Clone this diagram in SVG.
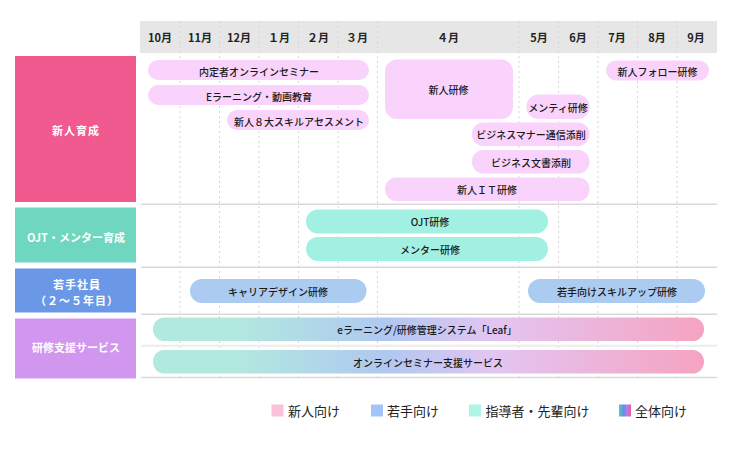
<svg xmlns="http://www.w3.org/2000/svg" width="730" height="460" viewBox="0 0 730 460">
<style>
text{font-family:"Noto Sans CJK JP","Noto Sans",sans-serif;dominant-baseline:central;text-anchor:middle}
.m{font-size:11px;font-weight:700;fill:#222}
.cat{font-size:11px;font-weight:700;fill:#fff}
.lb{font-size:10px;font-weight:500;fill:#1a1a1a}
.lg{font-size:13px;font-weight:400;fill:#222;text-anchor:start}
.grid{stroke:#d6d6d6;stroke-width:1;stroke-dasharray:2 3}
.hl{stroke:#d9d9d9;stroke-width:1.5}
.pk{fill:#F9D3FB}
.tl{fill:#A2F0E2}
.bl{fill:#ABCBF1}
.gr{fill:url(#g)}
</style>
<defs>
<linearGradient id="g" x1="0" y1="0" x2="1" y2="0">
<stop offset="0" stop-color="#B2E9DF"/>
<stop offset="0.15" stop-color="#B2E9DF"/>
<stop offset="0.42" stop-color="#AFC8F0"/>
<stop offset="0.62" stop-color="#E3C5F2"/>
<stop offset="1" stop-color="#F6A3C0"/>
</linearGradient>
<linearGradient id="lgg" x1="0" y1="0" x2="1" y2="0">
<stop offset="0" stop-color="#4ECDB5"/>
<stop offset="0.4" stop-color="#6A8BEA"/>
<stop offset="0.7" stop-color="#B67FE6"/>
<stop offset="1" stop-color="#F05A8E"/>
</linearGradient>
</defs>
<rect width="730" height="460" fill="#fff"/>
<g id="header">
<rect x="140" y="21" width="577" height="32" fill="#E6E6E6"/>
<text class="m" x="160" y="37">10月</text>
<text class="m" x="200" y="37">11月</text>
<text class="m" x="239" y="37">12月</text>
<text class="m" x="279" y="37">１月</text>
<text class="m" x="318" y="37">２月</text>
<text class="m" x="357" y="37">３月</text>
<text class="m" x="448" y="37">４月</text>
<text class="m" x="539" y="37">5月</text>
<text class="m" x="578" y="37">6月</text>
<text class="m" x="617" y="37">7月</text>
<text class="m" x="657" y="37">8月</text>
<text class="m" x="696" y="37">9月</text>
</g>
<g id="grid">
<line class="grid" x1="180" y1="21" x2="180" y2="380"/>
<line class="grid" x1="219.5" y1="21" x2="219.5" y2="380"/>
<line class="grid" x1="259" y1="21" x2="259" y2="380"/>
<line class="grid" x1="298.5" y1="21" x2="298.5" y2="380"/>
<line class="grid" x1="338" y1="21" x2="338" y2="380"/>
<line class="grid" x1="377.5" y1="21" x2="377.5" y2="380"/>
<line class="grid" x1="519" y1="21" x2="519" y2="380"/>
<line class="grid" x1="558.5" y1="21" x2="558.5" y2="380"/>
<line class="grid" x1="598" y1="21" x2="598" y2="380"/>
<line class="grid" x1="637.5" y1="21" x2="637.5" y2="380"/>
<line class="grid" x1="677" y1="21" x2="677" y2="380"/>
<line class="hl" x1="141" y1="204.3" x2="717" y2="204.3"/>
<line class="hl" x1="141" y1="267.3" x2="717" y2="267.3"/>
<line class="hl" x1="141" y1="314.3" x2="717" y2="314.3"/>
<line stroke="#ececec" stroke-width="2" x1="141" y1="345.7" x2="717" y2="345.7"/>
<line class="hl" x1="141" y1="377.5" x2="717" y2="377.5"/>
</g>
<g id="cat-shinjin">
<rect x="15" y="56" width="121" height="146" fill="#F05A8E"/>
<text class="cat" x="76" y="129.5" letter-spacing="1">新人育成</text>
</g>
<g id="cat-ojt">
<rect x="15" y="207.5" width="121" height="55" fill="#6FD6C0"/>
<text class="cat" x="76" y="236.5" font-size="10">OJT・メンター育成</text>
</g>
<g id="cat-wakate">
<rect x="15" y="268.5" width="121" height="44" fill="#6A98E6"/>
<text class="cat" x="77" y="284" font-size="10.5" letter-spacing="1">若手社員</text>
<text class="cat" x="77" y="299.5" font-size="10" letter-spacing="1">（２～５年目）</text>
</g>
<g id="cat-shien">
<rect x="15" y="318.5" width="121" height="60" fill="#D197EE"/>
<text class="cat" x="76" y="346.5" font-size="10">研修支援サービス</text>
</g>
<g id="bar-naitei"><rect class="pk" x="148" y="60" width="221" height="20" rx="10"/><text class="lb" x="259" y="71">内定者オンラインセミナー</text></g>
<g id="bar-elearning"><rect class="pk" x="148" y="85" width="221" height="20" rx="10"/><text class="lb" x="259" y="96">Eラーニング・動画教育</text></g>
<g id="bar-8dai"><rect class="pk" x="227" y="110" width="142" height="20" rx="10"/><text class="lb" x="299" y="121">新人８大スキルアセスメント</text></g>
<g id="bar-shinjin-kenshu"><rect class="pk" x="385" y="59.5" width="128" height="59.5" rx="12"/><text class="lb" x="448.5" y="89.5">新人研修</text></g>
<g id="bar-mentee"><rect class="pk" x="526.5" y="94.5" width="63" height="24.5" rx="12"/><text class="lb" x="558" y="107">メンティ研修</text></g>
<g id="bar-manner"><rect class="pk" x="472" y="122.5" width="117.5" height="23.5" rx="11.5"/><text class="lb" x="531" y="134.5">ビジネスマナー通信添削</text></g>
<g id="bar-bunsho"><rect class="pk" x="472" y="150" width="117.5" height="23.5" rx="11.5"/><text class="lb" x="531" y="162">ビジネス文書添削</text></g>
<g id="bar-it"><rect class="pk" x="385" y="177.5" width="204.5" height="23.5" rx="11.5"/><text class="lb" x="487" y="189.5">新人ＩＴ研修</text></g>
<g id="bar-follow"><rect class="pk" x="606" y="60.5" width="103" height="20" rx="10"/><text class="lb" x="657.5" y="71">新人フォロー研修</text></g>
<g id="bar-ojt"><rect class="tl" x="306" y="209.5" width="242" height="24" rx="12"/><text class="lb" x="430" y="221.5">OJT研修</text></g>
<g id="bar-mentor"><rect class="tl" x="306" y="237" width="242" height="24" rx="12"/><text class="lb" x="430" y="249">メンター研修</text></g>
<g id="bar-career"><rect class="bl" x="190" y="279" width="176.5" height="24" rx="12"/><text class="lb" x="278" y="291">キャリアデザイン研修</text></g>
<g id="bar-skillup"><rect class="bl" x="528" y="279" width="177" height="24" rx="12"/><text class="lb" x="617" y="291">若手向けスキルアップ研修</text></g>
<g id="bar-leaf"><rect class="gr" x="153" y="317.5" width="551" height="23.5" rx="11.5"/><text class="lb" x="427" y="329.5">eラーニング/研修管理システム「Leaf」</text></g>
<g id="bar-seminar"><rect class="gr" x="153" y="350" width="551" height="23.5" rx="11.5"/><text class="lb" x="428" y="362">オンラインセミナー支援サービス</text></g>
<g id="legend">
<rect x="271.5" y="404.5" width="12" height="12" fill="#F9C2DA"/>
<text class="lg" x="288" y="410.5">新人向け</text>
<rect x="371" y="404.5" width="12" height="12" fill="#A4C3FA"/>
<text class="lg" x="387" y="410.5">若手向け</text>
<rect x="469" y="404.5" width="12" height="12" fill="#AEF5E8"/>
<text class="lg" x="485.5" y="410.5">指導者・先輩向け</text>
<rect x="619" y="404.5" width="12" height="12" fill="url(#lgg)"/>
<text class="lg" x="635" y="410.5">全体向け</text>
</g>
</svg>
